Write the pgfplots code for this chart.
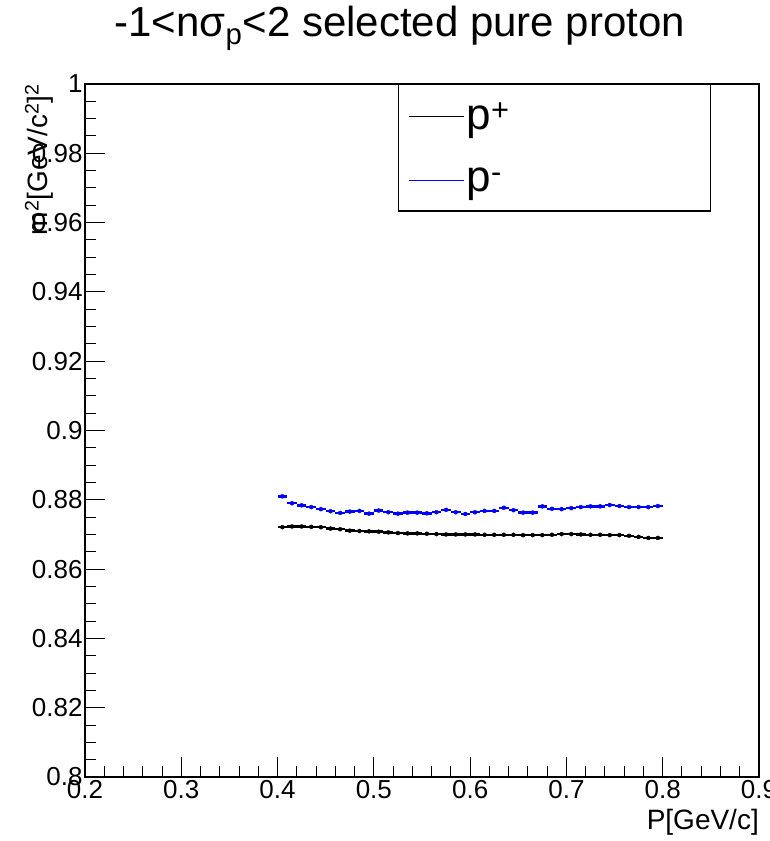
\documentclass[border=0pt]{standalone}
\usepackage{fontspec}
\setmainfont{Liberation Sans}
\usepackage{pgfplots}
\usepackage{pgfplotstable}
\pgfplotsset{compat=1.18}

\pgfplotstableread{
x y ex ey
0.405 0.8721 0.005 0.0001
0.415 0.8723 0.005 0.0001
0.425 0.8723 0.005 0.0001
0.435 0.8722 0.005 0.0001
0.445 0.8721 0.005 0.0001
0.455 0.8717 0.005 0.0001
0.465 0.8715 0.005 0.0001
0.475 0.8711 0.005 0.0001
0.485 0.8710 0.005 0.0001
0.495 0.8709 0.005 0.0001
0.505 0.8708 0.005 0.0001
0.515 0.8706 0.005 0.0001
0.525 0.8704 0.005 0.0001
0.535 0.8703 0.005 0.0001
0.545 0.8703 0.005 0.0001
0.555 0.8702 0.005 0.0001
0.565 0.8701 0.005 0.0001
0.575 0.8700 0.005 0.0001
0.585 0.8700 0.005 0.0001
0.595 0.8700 0.005 0.0001
0.605 0.8700 0.005 0.0001
0.615 0.8699 0.005 0.0001
0.625 0.8699 0.005 0.0001
0.635 0.8699 0.005 0.0001
0.645 0.8699 0.005 0.0001
0.655 0.8698 0.005 0.0001
0.665 0.8698 0.005 0.0001
0.675 0.8698 0.005 0.0001
0.685 0.8699 0.005 0.0001
0.695 0.8701 0.005 0.0001
0.705 0.8701 0.005 0.0001
0.715 0.8700 0.005 0.0001
0.725 0.8699 0.005 0.0001
0.735 0.8699 0.005 0.0001
0.745 0.8698 0.005 0.0001
0.755 0.8698 0.005 0.0001
0.765 0.8696 0.005 0.0001
0.775 0.8693 0.005 0.0001
0.785 0.8690 0.005 0.0001
0.795 0.8690 0.005 0.0001
}\pplus

\pgfplotstableread{
x y ex ey
0.405 0.8810 0.005 0.0003
0.415 0.8790 0.005 0.0003
0.425 0.8784 0.005 0.0003
0.435 0.8779 0.005 0.0003
0.445 0.8773 0.005 0.0003
0.455 0.8767 0.005 0.0003
0.465 0.8762 0.005 0.0003
0.475 0.8766 0.005 0.0003
0.485 0.8768 0.005 0.0003
0.495 0.8760 0.005 0.0003
0.505 0.8769 0.005 0.0003
0.515 0.8764 0.005 0.0003
0.525 0.8760 0.005 0.0003
0.535 0.8763 0.005 0.0003
0.545 0.8763 0.005 0.0003
0.555 0.8761 0.005 0.0003
0.565 0.8764 0.005 0.0003
0.575 0.8771 0.005 0.0003
0.585 0.8764 0.005 0.0003
0.595 0.8759 0.005 0.0003
0.605 0.8764 0.005 0.0003
0.615 0.8768 0.005 0.0003
0.625 0.8768 0.005 0.0003
0.635 0.8777 0.005 0.0003
0.645 0.8770 0.005 0.0003
0.655 0.8763 0.005 0.0003
0.665 0.8763 0.005 0.0003
0.675 0.8781 0.005 0.0003
0.685 0.8774 0.005 0.0003
0.695 0.8773 0.005 0.0003
0.705 0.8776 0.005 0.0003
0.715 0.8779 0.005 0.0003
0.725 0.8781 0.005 0.0003
0.735 0.8781 0.005 0.0003
0.745 0.8785 0.005 0.0003
0.755 0.8782 0.005 0.0003
0.765 0.8779 0.005 0.0003
0.775 0.8779 0.005 0.0003
0.785 0.8779 0.005 0.0003
0.795 0.8782 0.005 0.0003
}\pminus

\begin{document}
\begin{tikzpicture}[x=1pt,y=1pt]
\path[use as bounding box] (0,0) rectangle (770,841);
\begin{axis}[
  at={(85pt,64pt)}, anchor=south west,
  scale only axis, width=674pt, height=693pt,
  xmin=0.2, xmax=0.9, ymin=0.8, ymax=1,
  xtick={0.2,0.3,0.4,0.5,0.6,0.7,0.8,0.9},
  ytick={0.8,0.82,0.84,0.86,0.88,0.9,0.92,0.94,0.96,0.98,1},
  minor x tick num=4, minor y tick num=3,
  xtick pos=bottom, ytick pos=left, tick align=inside,
  major tick length=20pt, minor tick length=11pt,
  tick style={black, line width=1pt},
  axis line style={line width=1.3pt},
  /pgf/number format/assume math mode=true,
  ticklabel style={font=\fontsize{26}{26}\selectfont},
  yticklabel style={/pgf/number format/fixed, /pgf/number format/precision=2, xshift=1pt},
  xticklabel style={/pgf/number format/fixed, /pgf/number format/precision=1},
  title={-1<nσ\textsubscript{p}<2 selected pure proton},
  title style={at={(axis description cs:0.467,1)}, anchor=base, yshift=41pt, inner sep=0pt, font=\fontsize{42}{42}\selectfont},
  xlabel={P[GeV/c]},
  xlabel style={at={(axis description cs:1,0)}, anchor=north east, yshift=-32pt, inner sep=0pt, font=\fontsize{28}{28}\selectfont},
  ylabel={m\textsuperscript{2}[GeV/c\textsuperscript{2}]\textsuperscript{2}},
  ylabel style={at={(axis description cs:-0.068,1)}, anchor=east, inner sep=0pt, font=\fontsize{28}{28}\selectfont},
  legend style={at={(axis description cs:0.464,1)}, anchor=north west, draw=black, line width=1.2pt,
    font=\fontsize{44}{44}\selectfont, inner xsep=10pt, inner ysep=16pt, row sep=33pt,
    /tikz/every even column/.append style={column sep=6pt}},
  legend cell align=left,
  legend image code/.code={\draw[#1] (0pt,0pt) -- (55pt,0pt);},
]
\addplot[forget plot, black, only marks, mark=none,
  error bars/.cd, x dir=both, x explicit, y dir=both, y explicit, error mark=none,
  error bar style={line width=2.4pt, black}]
  table[x=x, y=y, x error=ex, y error=ey]{\pplus};
\addplot[forget plot, blue, only marks, mark=none,
  error bars/.cd, x dir=both, x explicit, y dir=both, y explicit, error mark=none,
  error bar style={line width=2.4pt, blue}]
  table[x=x, y=y, x error=ex, y error=ey]{\pminus};
\addlegendimage{black, line width=1.3pt}
\addlegendentry{\makebox[232pt][l]{p\textsuperscript{+}}}
\addlegendimage{blue, line width=1.3pt}
\addlegendentry{\makebox[232pt][l]{p\textsuperscript{-}}}
\end{axis}
\end{tikzpicture}
\end{document}
